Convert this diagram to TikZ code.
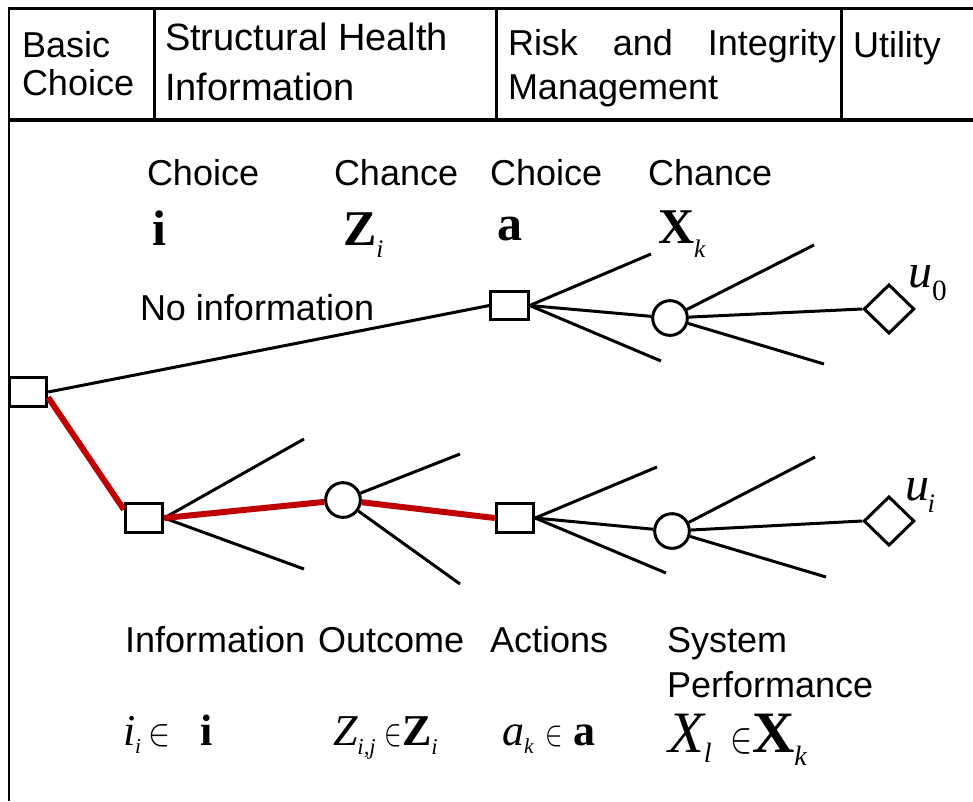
\documentclass[tikz,border=0pt]{standalone}
\usepackage{fontspec}
\setmainfont{Liberation Sans}
\newfontfamily\tms{Liberation Serif}
\usetikzlibrary{shapes.geometric}

% symbol helpers: bold / italic serif letters, lowered subscripts, element sign
\newcommand{\bsym}[1]{{\tms\bfseries #1}}
\newcommand{\isym}[1]{{\tms\itshape #1}}
\newcommand{\lowsub}[3]{\raisebox{-#1}{\fontsize{#2}{#2}\selectfont\tms\itshape #3}}
\newcommand{\elt}[2]{\scalebox{#1}[#2]{\fontsize{20}{20}\selectfont$\in$}}

\begin{document}
\begin{tikzpicture}[x=0.75pt,y=-0.75pt,
  every node/.style={font=\fontsize{27}{30}\selectfont},
  lbl/.style={anchor=base west, inner sep=0pt, outer sep=0pt},
  hdr/.style={lbl, font=\fontsize{28.5}{30}\selectfont},
  rule/.style={line width=2.25pt},
  branch/.style={line width=2.25pt},
  redpath/.style={line width=4.5pt, draw={rgb,255:red,192;green,0;blue,0}},
  choicebox/.style={draw, rectangle, fill=white, line width=2.25pt,
    minimum width=28pt, minimum height=21.5pt, inner sep=0pt},
  chancenode/.style={draw, circle, fill=white, line width=2.25pt,
    minimum size=26pt, inner sep=0pt},
  utilnode/.style={draw, diamond, fill=white, line width=2.25pt,
    minimum width=38pt, minimum height=37pt, inner sep=0pt}]

\useasboundingbox (0,0) rectangle (973,801);

% ---- header table ----
\draw[rule] (9,8) -- (973,8);
\draw[line width=3pt] (9,119.5) -- (973,119.5);
\draw[line width=1.4pt] (9,7) -- (9,801);
\foreach \cx in {154,496,841} \draw[rule] (\cx,8) -- (\cx,119.5);

\node[lbl] (hBasic) at (22,57) {Basic};
\node[lbl] (hChoice) at (22,95) {Choice};
\node[hdr] (hSHM1) at (165,50) {Structural Health};
\node[hdr] (hSHM2) at (165,100) {Information};
\node[lbl] (hRIM1) at (508,55) {\hbox to 246pt{Risk\hfill and\hfill Integrity}};
\node[lbl] (hRIM2) at (508,99) {Management};
\node[lbl] (hUtil) at (853,57) {Utility};

% ---- decision tree nodes ----
\node[choicebox] (R) at (28,392) {};
\node[choicebox] (A0) at (509.5,305.5) {};
\node[chancenode] (C0) at (670,318) {};
\node[utilnode] (D0) at (889,309) {};

\node[choicebox] (S1) at (144,518) {};
\node[chancenode] (C1) at (343,500) {};
\node[choicebox] (S2) at (515,518) {};
\node[chancenode] (C2) at (672,531) {};
\node[utilnode] (D2) at (889,521) {};

% loose branch ends
\coordinate (a0u) at (651,254);
\coordinate (a0d) at (661,361);
\coordinate (c0u) at (814,245);
\coordinate (c0d) at (824,364);
\coordinate (s1u) at (304,439);
\coordinate (s1d) at (304,569);
\coordinate (c1u) at (460,454);
\coordinate (c1d) at (460,584);
\coordinate (s2u) at (657,467);
\coordinate (s2d) at (666,573);
\coordinate (c2u) at (815,457);
\coordinate (c2d) at (826,577);

% no-information branch
\draw[branch] (R.east) -- (A0.west);
\draw[branch] (A0.east) -- (a0u);
\draw[branch] (A0.east) -- (a0d);
\draw[branch] (A0.east) -- (C0);
\draw[branch] (C0) -- (c0u);
\draw[branch] (C0) -- (c0d);
\draw[branch] (C0) -- (D0.west);

% information branch
\draw[branch] (S1.east) -- (s1u);
\draw[branch] (S1.east) -- (s1d);
\draw[branch] (C1) -- (c1u);
\draw[branch] (C1) -- (c1d);
\draw[branch] (S2.east) -- (s2u);
\draw[branch] (S2.east) -- (s2d);
\draw[branch] (S2.east) -- (C2);
\draw[branch] (C2) -- (c2u);
\draw[branch] (C2) -- (c2d);
\draw[branch] (C2) -- (D2.west);

% highlighted path: black edge under a red stroke
\begin{scope}[xshift=-1pt, yshift=-1.2pt]
  \draw[branch] (R.-15) -- (S1.157);
  \draw[branch] (S1.east) -- (C1);
  \draw[branch] (C1) -- (S2.west);
\end{scope}
\draw[redpath] (R.-15) -- (S1.157);
\draw[redpath] (S1.east) -- (C1);
\draw[redpath] (C1) -- (S2.west);

% ---- upper labels ----
\node[lbl] (tChoice1) at (147,185) {Choice};
\node[lbl] (tChance1) at (334,185) {Chance};
\node[lbl] (tChoice2) at (490,185) {Choice};
\node[lbl] (tChance2) at (648,185) {Chance};

\node[lbl] (symI) at (152,245) {\fontsize{37.5}{40}\selectfont\bsym{i}};
\node[lbl] (symZ) at (343,245) {\fontsize{37.5}{40}\selectfont\bsym{Z}\lowsub{9pt}{19}{i}};
\node[lbl] (symA) at (497,240) {\fontsize{37.5}{40}\selectfont\bsym{a}};
\node[lbl] (symX) at (658,243) {\fontsize{37.5}{40}\selectfont\bsym{X}\lowsub{11pt}{19}{k}};

\node[lbl] (noinfo) at (140,320) {No information};

\node[lbl] (u0) at (908,287) {\fontsize{36}{38}\selectfont\isym{u}\raisebox{-10pt}{\fontsize{22}{22}\selectfont\tms 0}};
\node[lbl] (ui) at (905,500) {\fontsize{36}{38}\selectfont\isym{u}\kern-1pt\lowsub{9pt}{20}{i}};

% ---- lower labels ----
\node[lbl] (bInfo) at (125,652) {Information};
\node[lbl] (bOut) at (318,652) {Outcome};
\node[lbl] (bAct) at (490,652) {Actions};
\node[lbl] (bSys) at (667,652) {System};
\node[lbl] (bPerf) at (667,697) {Performance};

\node[lbl] (mI) at (123,745) {\fontsize{33}{36}\selectfont
  \makebox[18.75pt][l]{\isym{i}\lowsub{6pt}{16}{i}}%
  \makebox[39pt][l]{\elt{1.2}{1.4}}%
  \bsym{i}};
\node[lbl] (mZ) at (333,745) {\fontsize{33}{36}\selectfont
  \makebox[38.25pt][l]{\isym{Z}\lowsub{7pt}{17}{i,j}}%
  \makebox[13.5pt][l]{\elt{0.95}{1.4}}%
  \bsym{Z}\lowsub{7pt}{17}{i}};
\node[lbl] (mA) at (502,745) {\fontsize{33}{36}\selectfont
  \makebox[32.25pt][l]{\isym{a}\lowsub{6pt}{16}{k}}%
  \makebox[21pt][l]{\elt{0.95}{1.3}}%
  \bsym{a}};
\node[lbl] (mX) at (668,752) {\fontsize{44}{46}\selectfont
  \makebox[46.5pt][l]{\isym{X}\lowsub{8pt}{21}{l}}%
  \makebox[16.5pt][l]{\elt{1.2}{1.6}}%
  \bsym{X}\lowsub{10pt}{21}{k}};

\end{tikzpicture}
\end{document}
